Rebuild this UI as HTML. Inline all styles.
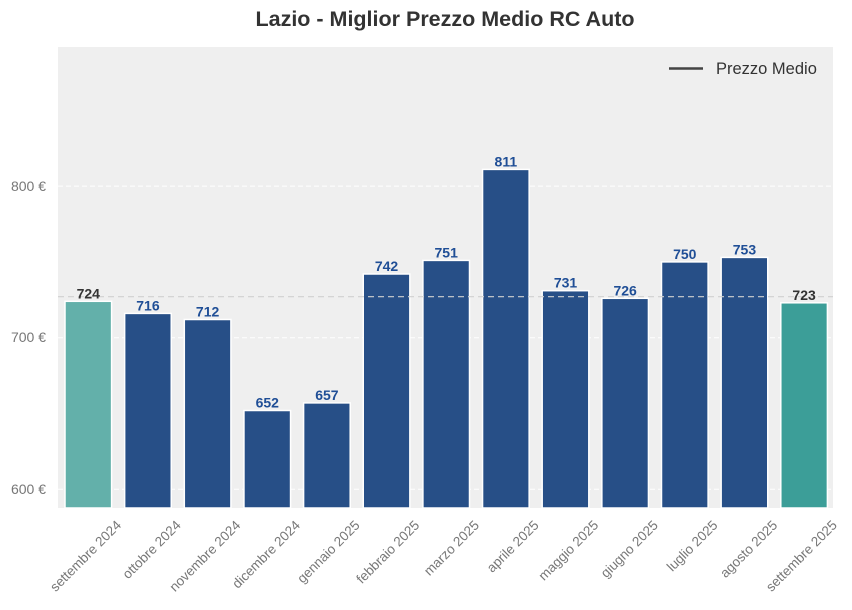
<!DOCTYPE html>
<html><head><meta charset="utf-8"><style>
body{margin:0;background:#fff;}
svg{display:block;font-family:"Liberation Sans",Arial,sans-serif;}
</style></head><body>
<svg width="852" height="610" viewBox="0 0 852 610" xmlns="http://www.w3.org/2000/svg">
<text x="445" y="26" text-anchor="middle" font-size="21.5" font-weight="bold" fill="#333">Lazio - Miglior Prezzo Medio RC Auto</text>
<rect x="58" y="47" width="775" height="461" fill="#efefef"/>
<g stroke="#fff" stroke-width="1" stroke-dasharray="5,3">
<line x1="58" x2="833" y1="186.1" y2="186.1"/>
<line x1="58" x2="833" y1="337.7" y2="337.7"/>
<line x1="58" x2="833" y1="489.3" y2="489.3"/>
</g>
<g font-size="14" fill="#777" text-anchor="end">
<text x="46" y="191">800 €</text>
<text x="46" y="342">700 €</text>
<text x="46" y="494">600 €</text>
</g>
<g stroke="#fff" stroke-width="1.5">
<rect x="65" y="301.3" width="46.6" height="206.7" fill="#63b0aa"/>
<rect x="124.65" y="313.4" width="46.6" height="194.6" fill="#274f87"/>
<rect x="184.3" y="319.5" width="46.6" height="188.5" fill="#274f87"/>
<rect x="243.95" y="410.5" width="46.6" height="97.5" fill="#274f87"/>
<rect x="303.6" y="402.9" width="46.6" height="105.1" fill="#274f87"/>
<rect x="363.25" y="274" width="46.6" height="234" fill="#274f87"/>
<rect x="422.9" y="260.4" width="46.6" height="247.6" fill="#274f87"/>
<rect x="482.55" y="169.4" width="46.6" height="338.6" fill="#274f87"/>
<rect x="542.2" y="290.7" width="46.6" height="217.3" fill="#274f87"/>
<rect x="601.85" y="298.3" width="46.6" height="209.7" fill="#274f87"/>
<rect x="661.5" y="261.9" width="46.6" height="246.1" fill="#274f87"/>
<rect x="721.15" y="257.4" width="46.6" height="250.6" fill="#274f87"/>
<rect x="780.8" y="302.8" width="46.6" height="205.2" fill="#3c9e98"/>
</g>
<line x1="58" x2="833" y1="296.7" y2="296.7" stroke="#d0d0d0" stroke-width="1.2" stroke-dasharray="6,4"/>
<g font-size="14" font-weight="bold" text-anchor="middle" fill="#1f4e96">
<text x="88.3" y="298.3" fill="#333">724</text>
<text x="147.95" y="310.4">716</text>
<text x="207.6" y="316.5">712</text>
<text x="267.25" y="407.5">652</text>
<text x="326.9" y="399.9">657</text>
<text x="386.55" y="271">742</text>
<text x="446.2" y="257.4">751</text>
<text x="505.85" y="166.4">811</text>
<text x="565.5" y="287.7">731</text>
<text x="625.15" y="295.3">726</text>
<text x="684.8" y="258.9">750</text>
<text x="744.45" y="254.4">753</text>
<text x="804.1" y="299.8" fill="#333">723</text>
</g>
<g font-size="13.5" fill="#777" text-anchor="end">
<text transform="translate(122,526) rotate(-45)">settembre 2024</text>
<text transform="translate(181.65,526) rotate(-45)">ottobre 2024</text>
<text transform="translate(241.3,526) rotate(-45)">novembre 2024</text>
<text transform="translate(300.95,526) rotate(-45)">dicembre 2024</text>
<text transform="translate(360.6,526) rotate(-45)">gennaio 2025</text>
<text transform="translate(420.25,526) rotate(-45)">febbraio 2025</text>
<text transform="translate(479.9,526) rotate(-45)">marzo 2025</text>
<text transform="translate(539.55,526) rotate(-45)">aprile 2025</text>
<text transform="translate(599.2,526) rotate(-45)">maggio 2025</text>
<text transform="translate(658.85,526) rotate(-45)">giugno 2025</text>
<text transform="translate(718.5,526) rotate(-45)">luglio 2025</text>
<text transform="translate(778.15,526) rotate(-45)">agosto 2025</text>
<text transform="translate(837.8,526) rotate(-45)">settembre 2025</text>
</g>
<line x1="669" x2="703" y1="68.5" y2="68.5" stroke="#444" stroke-width="2.5"/>
<text x="716" y="74" font-size="16.5" fill="#333">Prezzo Medio</text>
</svg>
</body></html>
